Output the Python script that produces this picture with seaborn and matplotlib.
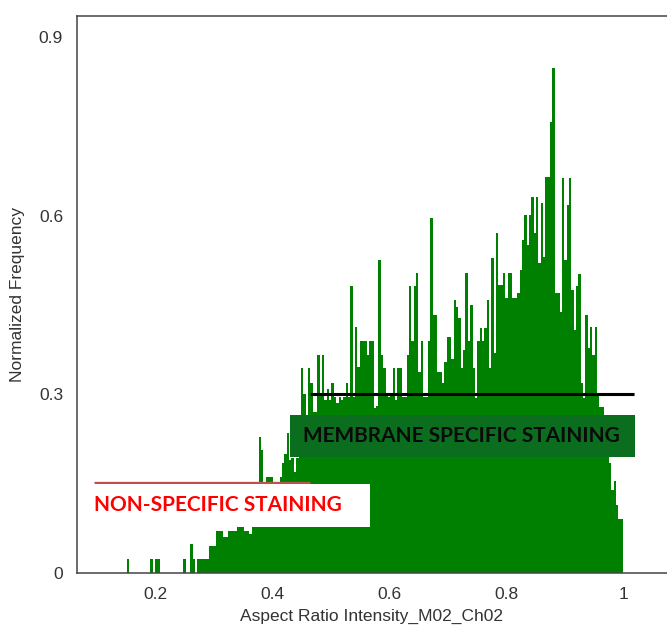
import numpy as np
import pandas as pd
import matplotlib
matplotlib.use("Agg")
import matplotlib.pyplot as plt
from matplotlib.patches import Rectangle
import seaborn as sns

# ---- data ----
bin_start = 0.148
bin_stop = 1.0
heights = [
    0, 0.023, 0, 0, 0, 0, 0, 0, 0, 0,
    0, 0.023, 0, 0.023, 0.023, 0, 0, 0, 0, 0,
    0, 0, 0, 0, 0, 0.023, 0, 0, 0.049, 0.023,
    0, 0.023, 0.023, 0.023, 0.023, 0.023, 0.045, 0.045, 0.045, 0.071,
    0.071, 0.071, 0.06, 0.06, 0.071, 0.071, 0.071, 0.071, 0.078, 0.078,
    0.078, 0.071, 0.071, 0.065, 0.078, 0.078, 0.078, 0.229, 0.206, 0.12,
    0.161, 0.161, 0.161, 0.13, 0.14, 0.14, 0.161, 0.185, 0.2, 0.235,
    0.19, 0.193, 0.17, 0.193, 0.2, 0.344, 0.3, 0.257, 0.344, 0.32,
    0.27, 0.27, 0.366, 0.3, 0.366, 0.29, 0.31, 0.29, 0.32, 0.296,
    0.285, 0.296, 0.29, 0.296, 0.32, 0.296, 0.482, 0.296, 0.413, 0.347,
    0.39, 0.39, 0.39, 0.366, 0.39, 0.39, 0.277, 0.28, 0.526, 0.366,
    0.344, 0.3, 0.296, 0.3, 0.344, 0.29, 0.344, 0.344, 0.296, 0.296,
    0.366, 0.482, 0.39, 0.482, 0.504, 0.338, 0.39, 0.296, 0.296, 0.39,
    0.597, 0.434, 0.434, 0.338, 0.338, 0.32, 0.355, 0.397, 0.397, 0.36,
    0.459, 0.447, 0.429, 0.344, 0.375, 0.504, 0.39, 0.45, 0.344, 0.294,
    0.39, 0.412, 0.39, 0.412, 0.459, 0.344, 0.529, 0.37, 0.571, 0.484,
    0.484, 0.504, 0.462, 0.504, 0.504, 0.462, 0.462, 0.47, 0.509, 0.56,
    0.602, 0.551, 0.602, 0.632, 0.571, 0.632, 0.521, 0.622, 0.531, 0.666,
    0.666, 0.758, 0.849, 0.47, 0.47, 0.439, 0.664, 0.526, 0.618, 0.664,
    0.476, 0.408, 0.482, 0.502, 0.32, 0.294, 0.434, 0.378, 0.413, 0.366,
    0.413, 0.302, 0.279, 0.279, 0.266, 0.21, 0.185, 0.14, 0.155, 0.115,
    0.09, 0.09,
]
x_ticks = [0.2, 0.4, 0.6, 0.8, 1.0]
x_tick_labels = ["0.2", "0.4", "0.6", "0.8", "1"]
y_ticks = [0, 0.3, 0.6, 0.9]
y_tick_labels = ["0", "0.3", "0.6", "0.9"]
x_label = "Aspect Ratio Intensity_M02_Ch02"
y_label = "Normalized Frequency"
membrane_label = "MEMBRANE SPECIFIC STAINING"
nonspecific_label = "NON-SPECIFIC STAINING"
membrane_level = 0.3
nonspecific_level = 0.151

n_bins = len(heights)
edges = np.linspace(bin_start, bin_stop, n_bins + 1)
centers = (edges[:-1] + edges[1:]) / 2
df = pd.DataFrame({"ratio": centers, "freq": heights})

sns.set_style("white")
plt.rcParams["font.family"] = ["Liberation Sans", "DejaVu Sans"]

fig = plt.figure(figsize=(6.67, 6.35), dpi=100)
ax = fig.add_axes([0.1154, 0.0976, 0.8846, 0.8772])

sns.histplot(data=df, x="ratio", weights="freq", bins=n_bins,
             binrange=(bin_start, bin_stop), color="#008000", alpha=1,
             linewidth=0, ax=ax)

ax.set_xlim(0.0667, 1.0752)
ax.set_ylim(0, 0.936)

ax.set_xticks(x_ticks)
ax.set_xticklabels(x_tick_labels)
ax.set_yticks(y_ticks)
ax.set_yticklabels(y_tick_labels)
ax.tick_params(axis="both", labelsize=12.5, colors="#333333",
               labelcolor="#333333")
ax.tick_params(axis="y", length=6, width=1.0, pad=4, direction="out")
ax.tick_params(axis="x", length=4, width=1.0, pad=6, direction="out")
ax.set_xlabel(x_label, fontsize=12.5, color="#333333", labelpad=5)
ax.set_ylabel(y_label, fontsize=12.5, color="#333333", labelpad=10)

for side in ["left", "top", "bottom"]:
    ax.spines[side].set_visible(True)
    ax.spines[side].set_color("#444444")
    ax.spines[side].set_linewidth(1.1)
ax.spines["right"].set_visible(False)

# annotation: membrane specific
ax.plot([0.465, 1.019], [membrane_level, membrane_level], color="#aaaaaa",
        lw=2.2, solid_capstyle="butt", zorder=4, alpha=0.6,
        transform=ax.transData)
ax.plot([0.465, 1.019], [membrane_level, membrane_level], color="black",
        lw=2.2, solid_capstyle="butt", zorder=5)
ax.add_patch(Rectangle((0.431, 0.195), 0.590, 0.0705, facecolor="#0a6e1e",
                       edgecolor="none", zorder=5))
ax.text(0.7245, 0.2305, membrane_label, ha="center", va="center",
        fontsize=15, fontweight="bold", family=["Lato", "DejaVu Sans"],
        color="#0a0a0a", zorder=6)

# annotation: non-specific
ax.plot([0.0957, 0.465], [nonspecific_level, nonspecific_level],
        color="#c0504d", lw=2.4, solid_capstyle="butt", zorder=5)
ax.add_patch(Rectangle((0.085, 0.0773), 0.4825, 0.0723, facecolor="white",
                       edgecolor="none", zorder=5))
ax.text(0.307, 0.114, nonspecific_label, ha="center", va="center",
        fontsize=15, fontweight="bold", family=["Lato", "DejaVu Sans"],
        color="#ff0000", zorder=6)

fig.savefig("out.png", dpi=100)
